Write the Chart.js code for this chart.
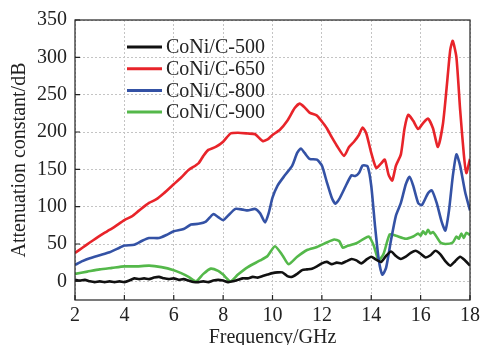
<!DOCTYPE html>
<html><head><meta charset="utf-8">
<script src="https://cdn.jsdelivr.net/npm/chart.js@4/dist/chart.umd.min.js"></script>
<style>html,body{margin:0;padding:0;background:#fff}</style>
</head><body>
<canvas id="c" width="484" height="345" style="display:block;width:484px;height:345px"></canvas>
<script>
const seriesLabels = ['CoNi/C-500','CoNi/C-650','CoNi/C-800','CoNi/C-900'];
const xTicks = [2,4,6,8,10,12,14,16,18];
const yTicks = [0,50,100,150,200,250,300,350];

const freq500 = [2.0,2.2,2.4,2.6,2.8,3.0,3.2,3.4,3.6,3.8,4.0,4.2,4.4,4.6,4.8,5.0,5.2,5.4,5.6,5.8,6.0,6.2,6.4,6.6,6.8,7.0,7.2,7.4,7.6,7.8,8.0,8.2,8.4,8.6,8.8,9.0,9.2,9.4,9.6,9.8,10.0,10.2,10.4,10.6,10.8,11.0,11.2,11.4,11.6,11.8,12.0,12.2,12.4,12.6,12.8,13.0,13.2,13.4,13.6,13.8,14.0,14.2,14.4,14.6,14.8,15.0,15.2,15.4,15.6,15.8,16.0,16.2,16.4,16.6,16.8,17.0,17.2,17.4,17.6,17.8,18.0];
const att500 = [2,1,2,0,-1,0,-1,0,-1,0,-1,1,4,3,4,3,5,6,4,3,4,2,3,1,-1,-1,0,-1,1,2,1,-1,0,2,4,4,6,5,7,9,11,12,12,7,6,10,15,16,17,20,24,26,23,25,24,27,30,28,24,29,33,29,26,34,40,34,30,33,38,41,37,32,35,41,36,27,21,27,33,28,21];

const freq650 = [2.0,2.3,2.6,3.0,3.3,3.6,4.0,4.3,4.6,5.0,5.3,5.6,6.0,6.3,6.6,7.0,7.2,7.4,7.7,8.0,8.3,8.6,9.0,9.3,9.6,9.8,10.0,10.3,10.6,10.9,11.1,11.3,11.5,11.8,12.0,12.2,12.4,12.6,12.9,13.1,13.3,13.5,13.65,13.8,14.0,14.2,14.4,14.55,14.7,14.85,15.0,15.2,15.35,15.5,15.7,15.9,16.1,16.3,16.5,16.7,16.9,17.05,17.2,17.3,17.45,17.6,17.75,17.85,18.0];
const att650 = [38,45,52,61,67,73,82,87,95,105,110,118,130,139,149,158,168,176,180,187,198,199,198,197,188,190,196,203,215,232,238,233,226,222,214,205,193,182,168,180,187,196,206,198,172,152,158,163,143,135,155,170,205,223,215,204,212,218,205,180,210,258,310,322,300,230,170,145,164];

const freq800 = [2.0,2.3,2.6,3.0,3.4,3.8,4.0,4.4,4.7,5.0,5.4,5.7,6.0,6.4,6.7,7.0,7.3,7.6,7.8,8.0,8.2,8.5,8.8,9.0,9.3,9.5,9.7,9.85,10.0,10.2,10.5,10.8,11.0,11.15,11.3,11.5,11.8,12.0,12.2,12.4,12.55,12.7,13.0,13.2,13.35,13.5,13.65,13.85,14.0,14.15,14.3,14.45,14.6,14.8,15.0,15.2,15.4,15.55,15.7,15.9,16.05,16.3,16.45,16.65,16.85,17.0,17.15,17.3,17.45,17.6,17.8,18.0];
const att800 = [22,27,31,35,39,45,48,49,54,58,58,62,67,70,76,77,80,90,86,82,88,97,96,95,97,91,79,92,112,128,142,155,172,178,172,164,163,155,133,112,104,110,130,142,141,145,155,154,128,75,30,9,18,55,88,105,130,140,128,105,102,118,122,105,80,68,95,140,170,155,120,95];

const freq900 = [2.0,2.5,3.0,3.5,4.0,4.5,5.0,5.5,6.0,6.3,6.6,6.9,7.2,7.5,7.8,8.0,8.3,8.6,9.0,9.5,9.8,10.1,10.4,10.65,11.0,11.4,11.8,12.2,12.5,12.7,12.85,13.0,13.4,13.7,13.9,14.1,14.3,14.5,14.75,15.0,15.4,15.7,15.9,16.0,16.1,16.2,16.3,16.4,16.5,16.6,16.8,17.0,17.3,17.45,17.55,17.65,17.75,17.85,18.0];
const att900 = [10,13,16,18,20,20,21,19,15,11,6,0,10,17,14,9,0,9,19,28,34,47,35,23,33,42,46,52,56,54,45,47,51,57,60,48,28,37,63,61,57,60,64,61,67,63,69,64,66,62,52,50,52,60,57,64,58,65,62];

const colors = ['#111111','rgb(232,36,42)','rgb(52,82,165)','rgb(84,184,74)'];
const xs = [freq500, freq650, freq800, freq900];
const ys = [att500, att650, att800, att900];

const FONT = '"Liberation Serif", "Times New Roman", serif';

const datasets = seriesLabels.map((lab, i) => ({
  label: lab,
  data: xs[i].map((f, j) => ({x: f, y: ys[i][j]})),
  borderColor: colors[i],
  backgroundColor: colors[i],
  borderWidth: 2.6,
  pointRadius: 0,
  tension: 0.2,
  fill: false
}));

const frameAndLegend = {
  id: 'frameAndLegend',
  afterDraw(chart) {
    const {ctx, chartArea: a, scales: {x, y}} = chart;
    ctx.save();
    ctx.strokeStyle = '#222';
    ctx.lineWidth = 1.2;
    ctx.strokeRect(a.left, a.top, a.right - a.left, a.bottom - a.top);
    ctx.beginPath();
    xTicks.forEach(v => { const px = x.getPixelForValue(v); ctx.moveTo(px, a.bottom); ctx.lineTo(px, a.bottom - 5); });
    yTicks.forEach(v => { const py = y.getPixelForValue(v); ctx.moveTo(a.left, py); ctx.lineTo(a.left + 5, py); });
    ctx.stroke();
    ctx.font = '20px ' + FONT;
    ctx.textBaseline = 'middle';
    ctx.textAlign = 'left';
    chart.data.datasets.forEach((ds, i) => {
      const yy = 47 + i * 21.7;
      ctx.strokeStyle = ds.borderColor;
      ctx.lineWidth = 3;
      ctx.beginPath(); ctx.moveTo(127, yy); ctx.lineTo(162, yy); ctx.stroke();
      ctx.fillStyle = '#222';
      ctx.fillText(ds.label, 166, yy + 1);
    });
    ctx.restore();
  }
};

new Chart(document.getElementById('c'), {
  type: 'line',
  data: { datasets },
  options: {
    responsive: false,
    animation: false,
    events: [],
    layout: { padding: { top: 16, right: 10, left: 0, bottom: 0 } },
    plugins: { legend: { display: false }, tooltip: { enabled: false } },
    scales: {
      x: {
        type: 'linear', min: 2, max: 18,
        afterBuildTicks: s => { s.ticks = xTicks.map(v => ({value: v})); },
        afterFit: s => { s.height = 45; },
        ticks: { font: { family: FONT, size: 20 }, color: '#222', padding: 4, maxRotation: 0, autoSkip: false },
        grid: { color: '#c4c4c4', lineWidth: 1, drawTicks: false },
        border: { display: false, dash: [2, 2] },
        title: { display: true, text: 'Frequency/GHz', font: { family: FONT, size: 20, lineHeight: 0.7 }, color: '#222', padding: { top: 0, bottom: 0 } }
      },
      y: {
        type: 'linear', min: -25, max: 350,
        afterBuildTicks: s => { s.ticks = yTicks.map(v => ({value: v})); },
        afterFit: s => { s.width = 75; },
        ticks: { font: { family: FONT, size: 20 }, color: '#222', padding: 8 },
        grid: { color: '#c4c4c4', lineWidth: 1, drawTicks: false },
        border: { display: false, dash: [2, 2] },
        title: { display: true, text: 'Attenuation constant/dB', font: { family: FONT, size: 20, lineHeight: 1 }, color: '#222', padding: { top: 10, bottom: 0 } }
      }
    }
  },
  plugins: [frameAndLegend]
});
</script>
</body></html>
